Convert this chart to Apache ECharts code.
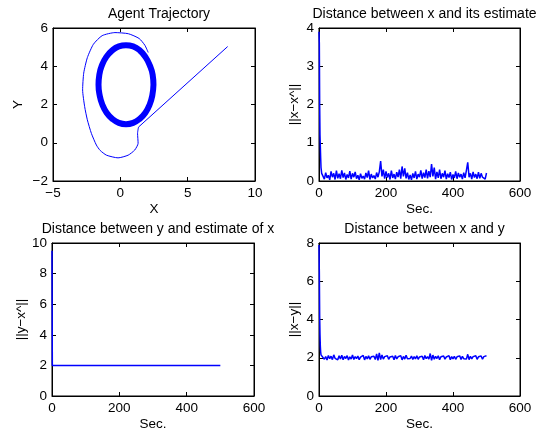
<!DOCTYPE html>
<html><head><meta charset="utf-8">
<script src="https://cdn.jsdelivr.net/npm/echarts@6/dist/echarts.min.js"></script>
<style>html,body{margin:0;padding:0;background:#fff}#c{width:537px;height:432px}</style>
</head><body><div id="c"></div>
<script>
// ---- Data ----
// Agent trajectory: straight approach, then outer loop (x, y)
const trajApproach = [[7.97,5.03],[1.35,0.82]];
const trajLoop = [[1.35,0.82],[1.28,0.5],[1.32,-0.03],[1.07,-0.38],[0.58,-0.65],[-0.17,-0.79],[-1.03,-0.65],[-1.5,-0.4],[-1.78,-0.12],[-2.15,0.49],[-2.45,1.2],[-2.65,1.89],[-2.8,2.76],[-2.72,3.64],[-2.45,4.45],[-2.0,5.15],[-1.35,5.6],[-0.4,5.76],[0.6,5.7],[1.4,5.45],[1.82,5.1],[2.07,4.72]];
// Limit cycle (many overlapping laps, drawn as a thick closed curve)
const trajCycle = [[2.46,3.03],[2.38,2.5],[2.18,2.0],[1.86,1.57],[1.44,1.25],[0.95,1.04],[0.42,0.97],[-0.11,1.04],[-0.6,1.25],[-1.02,1.57],[-1.34,2.0],[-1.54,2.5],[-1.62,3.03],[-1.56,3.56],[-1.36,4.06],[-1.04,4.49],[-0.6,4.83],[-0.11,5.04],[0.42,5.1],[0.95,5.04],[1.44,4.83],[1.86,4.49],[2.18,4.06],[2.4,3.56],[2.46,3.03]];

// ||x - x^|| over time
const errXHead = [[0,3.9],[1,3.6],[2,2.0],[3,1.2],[4,0.9],[5,0.6],[6,0.35],[8,0.2],[10,0.15]];
const errXStart = 12, errXStep = 4;
const errXVals = [
0.18,0.05,0.22,0.08,0.15,0.03,0.25,0.1,0.2,0.04,0.27,0.07,0.19,
0.06,0.28,0.09,0.21,0.04,0.17,0.08,0.26,0.05,0.2,0.1,0.24,0.06,
0.15,0.03,0.19,0.07,0.13,0.05,0.21,0.09,0.27,0.04,0.18,0.08,0.14,
0.05,0.22,0.1,0.24,0.52,0.12,0.3,0.06,0.25,0.09,0.2,0.04,0.27,
0.08,0.18,0.05,0.23,0.1,0.3,0.06,0.38,0.12,0.33,0.07,0.22,0.04,
0.16,0.03,0.2,0.08,0.25,0.05,0.18,0.1,0.28,0.06,0.22,0.09,0.3,
0.07,0.26,0.1,0.44,0.12,0.35,0.05,0.24,0.08,0.3,0.06,0.2,0.1,
0.27,0.05,0.19,0.09,0.23,0.04,0.17,0.08,0.25,0.06,0.21,0.1,0.18,
0.05,0.22,0.08,0.28,0.49,0.1,0.2,0.05,0.24,0.09,0.18,0.06,0.23,
0.07,0.2,0.1,0.15,0.05,0.21];

// ||y - x^|| over time
const errY = [[0,9.5],[1,2.0],[100,2.0],[200,2.0],[300,2.0],[400,2.0],[500,2.0]];

// ||x - y|| over time
const distHead = [[0,7.9],[1,6.5],[2,4.2],[3,3.2],[4,2.6],[5,2.3],[6,2.15],[8,2.05],[10,2.1]];
const distStart = 12, distStep = 4;
const distVals = [
2.1,1.92,2.06,1.88,2.12,1.95,2.08,1.9,2.15,1.97,2.04,1.89,2.1,
1.94,2.13,1.9,2.07,1.96,2.11,1.88,2.05,1.93,2.14,1.91,2.06,1.95,
2.09,1.9,2.03,1.96,2.12,1.89,2.07,1.94,2.1,1.92,2.05,1.97,2.08,
1.91,2.2,1.86,2.25,1.9,2.15,1.93,2.06,1.97,2.1,1.92,2.04,1.95,
2.08,1.9,2.12,1.94,2.05,1.97,2.11,1.89,2.07,1.93,2.13,1.95,2.03,
1.96,2.09,1.91,2.06,1.94,2.1,1.92,2.04,1.97,2.08,1.9,2.12,1.95,
2.06,1.93,2.22,1.87,2.14,1.92,2.07,1.96,2.1,1.9,2.05,1.95,2.09,
1.93,2.04,1.97,2.11,1.9,2.06,1.94,2.08,1.92,2.05,1.96,2.1,1.91,
2.07,1.95,2.03,1.93,2.18,1.9,2.08,1.94,2.06,1.96,2.1,1.92,2.05,
1.95,2.09,1.92,2.06,1.96,2.1];

const titles = ['Agent Trajectory','Distance between x and its estimate','Distance between y and estimate of x','Distance between x and y'];
const xNames = ['X','Sec.','Sec.','Sec.'];
const yNames = ['Y','||x\u2212x^||','||y\u2212x^||','||x\u2212y||'];
const xRanges = [[-5,10,5],[0,600,200],[0,600,200],[0,600,200]];
const yRanges = [[-2,6,2],[0,4,1],[0,10,2],[0,8,2]];

// ---- Build ----
function withTimes(head, start, step, vals){
  const out = head.slice();
  vals.forEach((v,i)=>out.push([start+i*step, v]));
  return out;
}
const grids = [
  {left:53, top:28, width:202, height:153},
  {left:319, top:28, width:201, height:153},
  {left:52, top:243, width:202, height:153},
  {left:319, top:243, width:201, height:153}
];
const yNameGaps = [28, 18, 24, 18];
const FONT = 'Liberation Sans, Arial, sans-serif';
const FS = 13.5;
const TFS = 14;
const BLUE = '#0000ff';
const fmt = v => String(v).replace('-', '\u2212');
const xAxes = [], yAxes = [], titleArr = [];
grids.forEach((g,i)=>{
  g.show = true; g.borderColor = '#000'; g.borderWidth = 1; g.containLabel = false;
  const [xmin,xmax,xi] = xRanges[i], [ymin,ymax,yi] = yRanges[i];
  const base = {type:'value', gridIndex:i, splitLine:{show:false},
    axisLine:{show:true, onZero:false, lineStyle:{color:'#000', width:1}},
    axisTick:{show:true, inside:true, length:4, lineStyle:{color:'#000'}}};
  xAxes.push(Object.assign({}, base, {position:'bottom', min:xmin, max:xmax, interval:xi,
    name:xNames[i], nameLocation:'middle', nameGap:21,
    nameTextStyle:{color:'#000', fontSize:FS, fontFamily:FONT},
    axisLabel:{color:'#000', fontSize:FS, fontFamily:FONT, margin:5, formatter:fmt}}));
  xAxes.push(Object.assign({}, base, {position:'top', min:xmin, max:xmax, interval:xi, axisLabel:{show:false}}));
  yAxes.push(Object.assign({}, base, {position:'left', min:ymin, max:ymax, interval:yi,
    name:yNames[i], nameLocation:'middle', nameGap:yNameGaps[i], nameRotate:90,
    nameTextStyle:{color:'#000', fontSize:FS, fontFamily:FONT},
    axisLabel:{color:'#000', fontSize:FS, fontFamily:FONT, margin:5, formatter:fmt}}));
  yAxes.push(Object.assign({}, base, {position:'right', min:ymin, max:ymax, interval:yi, axisLabel:{show:false}}));
  titleArr.push({text:titles[i], left:g.left+g.width/2, top:g.top-26, textAlign:'center',
    textStyle:{color:'#000', fontSize:TFS, fontWeight:'normal', fontFamily:FONT}});
});
function line(i, data, w, smooth){
  return {type:'line', xAxisIndex:2*i, yAxisIndex:2*i, data:data, showSymbol:false, symbol:'none',
    smooth:smooth||false, lineStyle:{color:BLUE, width:w||1}, silent:true, animation:false};
}
const option = {
  animation:false, backgroundColor:'#fff',
  title:titleArr, grid:grids, xAxis:xAxes, yAxis:yAxes,
  series:[
    line(0, trajApproach, 1),
    line(0, trajLoop, 1, 0.2),
    line(0, trajCycle, 6, 0.5),
    line(1, withTimes(errXHead, errXStart, errXStep, errXVals), 1.5),
    line(2, errY, 1.5),
    line(3, withTimes(distHead, distStart, distStep, distVals), 1.5)
  ]
};
const chart = echarts.init(document.getElementById('c'), null, {renderer:'canvas'});
chart.setOption(option);
</script></body></html>
